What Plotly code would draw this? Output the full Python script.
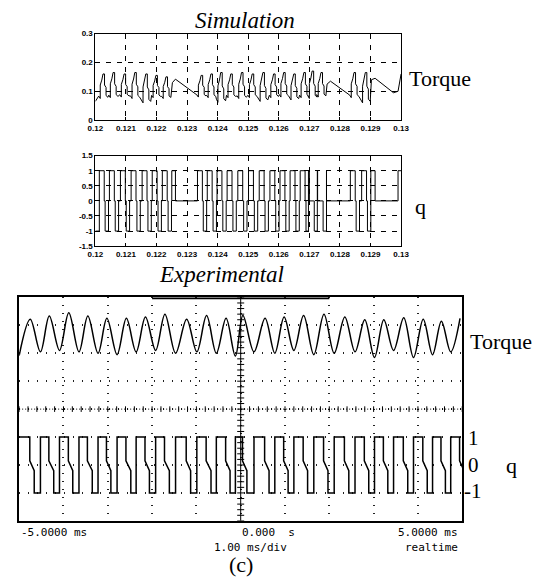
import numpy as np
import plotly.graph_objects as go

W, H = 544, 581

# ---------------- data : simulation (time in ms after 0.12 s) ----------------
sim_tick_vals = [0.12, 0.121, 0.122, 0.123, 0.124, 0.125, 0.126, 0.127, 0.128, 0.129, 0.13]
sim_tick_text = ["0.12", "0.121", "0.122", "0.123", "0.124", "0.125", "0.126", "0.127", "0.128", "0.129", "0.13"]
torque_tick_vals = [0, 0.1, 0.2, 0.3]
torque_tick_text = ["0", "0.1", "0.2", "0.3"]
q_tick_vals = [-1.5, -1, -0.5, 0, 0.5, 1, 1.5]
q_tick_text = ["-1.5", "-1", "-0.5", "0", "0.5", "1", "1.5"]

# ripple cycles: peak time (ms), peak torque, trough torque of the cycle
sim_peak_ms = [0.27, 0.60, 0.96, 1.31, 1.67, 2.00, 2.33,
               3.48, 3.80, 4.12, 4.45, 4.80, 5.15, 5.50, 5.85, 6.18, 6.51, 6.84, 7.11, 7.40,
               8.48, 8.85]
sim_peak_val = [0.160, 0.165, 0.160, 0.165, 0.160, 0.155, 0.150,
                0.155, 0.160, 0.165, 0.160, 0.165, 0.160, 0.165, 0.160, 0.165, 0.160, 0.165, 0.170, 0.165,
                0.165, 0.165]
sim_trough_val = [0.075, 0.078, 0.080, 0.075, 0.060, 0.078, 0.075,
                  0.080, 0.078, 0.062, 0.078, 0.075, 0.078, 0.065, 0.078, 0.080, 0.070, 0.078, 0.075, 0.080,
                  0.078, 0.060]
# shape of one ripple cycle (offset from peak in ms, fraction trough->peak)
sim_shape_off = [-0.16, -0.11, -0.11, -0.06, -0.02, 0.03, 0.03, 0.08, 0.08, 0.14]
sim_shape_frac = [0.10, 0.00, 0.55, 0.75, 1.00, 1.00, 0.55, 0.45, 0.12, 0.05]
# slow (zero-vector) segments and trace ends
sim_extra_ms = [[0.00], [2.52, 2.62, 3.26], [7.58, 7.69, 8.15], [9.03, 9.15, 9.75, 9.90, 10.0]]
sim_extra_val = [[0.065], [0.130, 0.142, 0.093], [0.125, 0.135, 0.098], [0.140, 0.145, 0.095, 0.100, 0.160]]

# switching state q in each cycle (offset from peak in ms, level)
sim_q_off = [-0.14, 0.02, 0.05, 0.16]
sim_q_lvl = [1, 0, -1, 0]
sim_q_extra_ms = [0.00, 2.50, 2.62, 7.56, 7.69, 9.01, 9.15, 9.90]
sim_q_extra_lvl = [-1, 1, 0, 1, 0, 1, 0, 1]

# ---------------- data : experimental (time in ms, torque in divisions) ----------------
exp_peak_ms = [-4.75, -4.32, -3.88, -3.45, -3.02, -2.58, -2.15, -1.71, -1.22, -0.77, -0.33, 0.05,
               0.55, 0.98, 1.42, 1.88, 2.35, 2.80, 3.23, 3.68, 4.12, 4.53, 4.95]
exp_peak_val = [3.22, 3.33, 3.45, 3.33, 3.25, 3.25, 3.30, 3.40, 3.22, 3.35, 3.25, 3.35,
                3.25, 3.30, 3.35, 3.40, 3.30, 3.20, 3.20, 3.27, 3.22, 3.15, 3.25]
exp_trough_ms = [-4.52, -4.09, -3.65, -3.22, -2.79, -2.36, -1.92, -1.47, -0.99, -0.55, -0.12,
                 0.30, 0.77, 1.20, 1.65, 2.11, 2.58, 3.02, 3.45, 3.90, 4.33, 4.74]
exp_trough_val = [2.05, 2.10, 2.05, 2.00, 1.95, 2.05, 2.10, 2.00, 2.05, 2.00, 1.90,
                  2.05, 2.00, 2.10, 1.95, 2.00, 2.05, 1.85, 2.10, 1.85, 1.95, 2.05]
exp_start = (-5.0, 1.92)

# q transitions : fall from +1 (at torque peak), end of zero state, rise from -1 (at trough)
exp_q_fall = [-4.76, -4.33, -3.89, -3.46, -3.03, -2.59, -2.16, -1.72, -1.23, -0.78, -0.34, 0.04,
              0.54, 0.97, 1.41, 1.87, 2.34, 2.79, 3.22, 3.67, 4.11, 4.52, 4.94]
exp_q_zero_end = [-4.66, -4.22, -3.79, -3.35, -2.93, -2.48, -2.06, -1.61, -1.13, -0.67, -0.24, 0.14,
                  0.64, 1.07, 1.51, 1.97, 2.44, 2.89, 3.32, 3.77, 4.21, 4.62, 5.04]
exp_q_rise = [-4.52, -4.09, -3.65, -3.22, -2.79, -2.36, -1.92, -1.47, -0.99, -0.55, -0.12,
              0.30, 0.77, 1.20, 1.65, 2.11, 2.58, 3.02, 3.45, 3.90, 4.33, 4.74]
exp_q_shoulder = (0.15, -0.20)


def pxx(x):
    return x / W


def pyy(y):
    return 1 - y / H


# ---- build simulation torque polyline (groups kept in order)
groups = []
for p, pv, tv in zip(sim_peak_ms, sim_peak_val, sim_trough_val):
    groups.append([(p + o, tv + f * (pv - tv)) for o, f in zip(sim_shape_off, sim_shape_frac)])
for ts, vs in zip(sim_extra_ms, sim_extra_val):
    groups.append(list(zip(ts, vs)))
groups.sort(key=lambda g: g[0][0])
pts = [pt for g in groups for pt in g]
sim_t = [0.12 + a / 1000 for a, _ in pts]
sim_v = [b for _, b in pts]

# ---- build simulation q steps
qp = []
for p in sim_peak_ms:
    for o, l in zip(sim_q_off, sim_q_lvl):
        qp.append((p + o, l))
qp += list(zip(sim_q_extra_ms, sim_q_extra_lvl))
qp.sort()
qp.append((10.0, qp[-1][1]))
simq_t = [0.12 + a / 1000 for a, _ in qp]
simq_v = [b for _, b in qp]

# ---- experimental torque
ep = [exp_start] + list(zip(exp_peak_ms, exp_peak_val)) + list(zip(exp_trough_ms, exp_trough_val))
ep.sort()
exp_t = [a for a, _ in ep]
exp_v = [b for _, b in ep]

# ---- experimental q
ev = [(-5.0, 1)]
events = []
for f, z in zip(exp_q_fall, exp_q_zero_end):
    events.append((f, "fall", z))
for r in exp_q_rise:
    events.append((r, "rise", None))
events.sort(key=lambda e: e[0])
for t, kind, z in events:
    if kind == "fall":
        ev += [(t, 1), (t, exp_q_shoulder[0]), (z, exp_q_shoulder[1]), (z, -1)]
    else:
        ev += [(t, -1), (t, 1)]
expq_t = [a for a, _ in ev]
expq_v = [b for _, b in ev]

fig = go.Figure()

fig.add_trace(go.Scatter(x=sim_t, y=sim_v, mode="lines", line=dict(color="black", width=1),
                         xaxis="x", yaxis="y", showlegend=False))
fig.add_trace(go.Scatter(x=simq_t, y=simq_v, mode="lines", line=dict(color="black", width=1, shape="hv"),
                         xaxis="x2", yaxis="y2", showlegend=False))
fig.add_trace(go.Scatter(x=exp_t, y=exp_v, mode="lines",
                         line=dict(color="black", width=1.5, shape="spline", smoothing=1.0),
                         xaxis="x3", yaxis="y3", showlegend=False))
fig.add_trace(go.Scatter(x=expq_t, y=expq_v, mode="lines", line=dict(color="black", width=1.5),
                         xaxis="x3", yaxis="y4", showlegend=False))

# graticule centre-line tick marks
cy = np.round(np.arange(-4, 4.001, 0.2), 2)
fig.add_trace(go.Scatter(x=[0] * len(cy), y=cy, mode="markers", xaxis="x3", yaxis="y3", showlegend=False,
                         marker=dict(symbol="line-ew", size=5, line=dict(color="black", width=1)),
                         hoverinfo="skip"))
cx = np.round(np.arange(-5, 5.001, 0.2), 2)
fig.add_trace(go.Scatter(x=cx, y=[0] * len(cx), mode="markers", xaxis="x3", yaxis="y3", showlegend=False,
                         marker=dict(symbol="line-ns", size=4, line=dict(color="black", width=1)),
                         hoverinfo="skip"))

tickfont = dict(family="Liberation Sans", size=8, color="black", weight="bold")
matlab_axis = dict(showline=True, linecolor="black", linewidth=1, mirror=True, ticks="inside", ticklen=3,
                   tickcolor="black", showgrid=True, gridcolor="black", gridwidth=1, griddash="5px,6px",
                   zeroline=False, tickfont=tickfont)

fig.update_layout(
    width=W, height=H, margin=dict(l=0, r=0, t=0, b=0),
    paper_bgcolor="white", plot_bgcolor="white",
    xaxis=dict(domain=[pxx(90), pxx(405)], range=[0.12, 0.13], tickvals=sim_tick_vals, ticktext=sim_tick_text,
               anchor="y", **matlab_axis),
    yaxis=dict(domain=[pyy(118), pyy(30)], range=[0, 0.3], tickvals=torque_tick_vals, ticktext=torque_tick_text,
               anchor="x", **matlab_axis),
    xaxis2=dict(domain=[pxx(90), pxx(405)], range=[0.12, 0.13], tickvals=sim_tick_vals, ticktext=sim_tick_text,
                anchor="y2", **matlab_axis),
    yaxis2=dict(domain=[pyy(246), pyy(154)], range=[-1.5, 1.5], tickvals=q_tick_vals, ticktext=q_tick_text,
                anchor="x2", **matlab_axis),
    xaxis3=dict(domain=[pxx(11.5), pxx(468)], range=[-5, 5], dtick=1, showticklabels=False, ticks="",
                showline=True, linecolor="black", linewidth=2, mirror=True, zeroline=False,
                showgrid=True, gridcolor="#222", gridwidth=1.5, griddash="1px,7px", anchor="y3"),
    yaxis3=dict(domain=[pyy(525), pyy(298)], range=[-4, 4], dtick=1, showticklabels=False, ticks="",
                showline=True, linecolor="black", linewidth=2, mirror=True, zeroline=False,
                showgrid=True, gridcolor="#222", gridwidth=1.5, griddash="1px,8px", anchor="x3"),
    yaxis4=dict(overlaying="y3", range=[-2, 6], visible=False, anchor="x3"),
)

fig.add_shape(type="line", xref="x3", yref="y3", x0=0, x1=0, y0=-4, y1=4, line=dict(color="black", width=1))
fig.add_shape(type="line", xref="x3", yref="y3", x0=-5, x1=5, y0=0, y1=0,
              line=dict(color="black", width=1, dash="1px,2px"))
fig.add_shape(type="line", xref="x3", yref="y3", x0=-2.0, x1=2.0, y0=4, y1=4, line=dict(color="black", width=3.5))

serif = "Liberation Serif"
mono = "DejaVu Sans Mono"


def label(text, x, y, size=22, family=serif, xanchor="left", italic=False):
    fig.add_annotation(text=text, xref="paper", yref="paper", x=pxx(x), y=pyy(y), showarrow=False,
                       xanchor=xanchor, yanchor="middle", borderpad=0,
                       font=dict(family=family, size=size, color="black", style="italic" if italic else "normal"))


label("Simulation", 244, 17, size=23, xanchor="center", italic=True)
label("Torque", 412, 76)
label("q", 418, 206)
label("Experimental", 220, 275, size=23, xanchor="center", italic=True)
label("Torque", 475, 343)
label("1", 473, 441, size=21)
label("0", 473, 468, size=21)
label("q", 512, 469)
label("-1", 469, 495, size=21)
label("-5.0000 ms", 12, 537, size=11, family=mono)
label("0.000\u00a0\u00a0s", 240, 537, size=11, family=mono)
label("5.0000 ms", 465, 537, size=11, family=mono, xanchor="right")
label("1.00 ms/div", 250, 552, size=11, family=mono, xanchor="center")
label("realtime", 465, 552, size=11, family=mono, xanchor="right")
label("(c)", 240, 569, size=22, xanchor="center")

fig.write_html("out.html")
